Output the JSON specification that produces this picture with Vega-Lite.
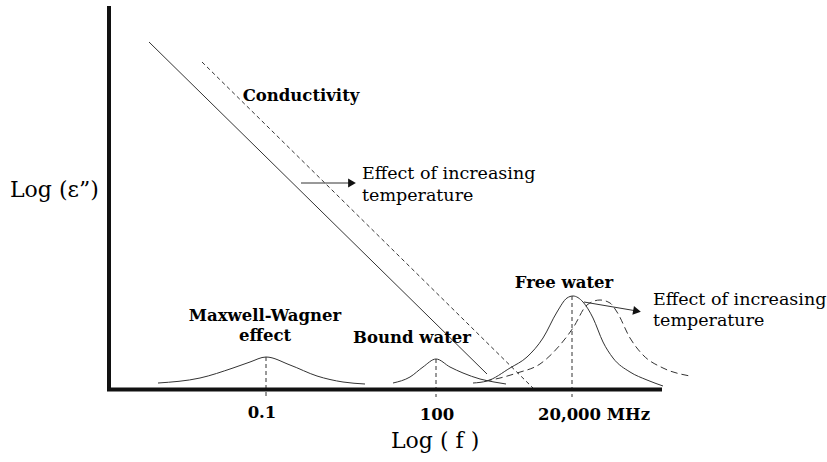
{
  "$schema": "https://vega.github.io/schema/vega-lite/v6.json",
  "width": 827,
  "height": 462,
  "autosize": "none",
  "padding": 0,
  "background": "white",
  "config": {"view": {"stroke": null}},
  "datasets": {
    "axes": [
      {"x": 109, "y": 6, "x2": 109, "y2": 391},
      {"x": 107, "y": 389.5, "x2": 662, "y2": 389.5}
    ],
    "solidSegs": [
      {"name": "conductivity", "x": 149, "y": 42, "x2": 487, "y2": 374},
      {"name": "arrow1", "x": 301, "y": 183, "x2": 349, "y2": 183},
      {"name": "arrow2", "x": 584, "y": 302, "x2": 634, "y2": 310.5}
    ],
    "dashSegs": [
      {"name": "conductivity hot", "x": 202, "y": 62, "x2": 533, "y2": 388},
      {"name": "MW peak", "x": 266, "y": 357, "x2": 266, "y2": 397},
      {"name": "BW peak", "x": 436, "y": 359, "x2": 436, "y2": 397},
      {"name": "FW peak", "x": 572, "y": 296, "x2": 572, "y2": 397}
    ],
    "curves": [
      {"c": "MW", "o": 1, "x": 158, "y": 383},
      {"c": "MW", "o": 2, "x": 200, "y": 378},
      {"c": "MW", "o": 3, "x": 233, "y": 368},
      {"c": "MW", "o": 4, "x": 250, "y": 362},
      {"c": "MW", "o": 5, "x": 266, "y": 357},
      {"c": "MW", "o": 6, "x": 290, "y": 365},
      {"c": "MW", "o": 7, "x": 317, "y": 376},
      {"c": "MW", "o": 8, "x": 343, "y": 382},
      {"c": "MW", "o": 9, "x": 365, "y": 384},
      {"c": "BW", "o": 1, "x": 393, "y": 383},
      {"c": "BW", "o": 2, "x": 410, "y": 377},
      {"c": "BW", "o": 3, "x": 423, "y": 367},
      {"c": "BW", "o": 4, "x": 436, "y": 359},
      {"c": "BW", "o": 5, "x": 450, "y": 367},
      {"c": "BW", "o": 6, "x": 463, "y": 373},
      {"c": "BW", "o": 7, "x": 480, "y": 379},
      {"c": "BW", "o": 8, "x": 494, "y": 382},
      {"c": "BW", "o": 9, "x": 506, "y": 384},
      {"c": "FW", "o": 1, "x": 473, "y": 383},
      {"c": "FW", "o": 2, "x": 487, "y": 381},
      {"c": "FW", "o": 3, "x": 510, "y": 368},
      {"c": "FW", "o": 4, "x": 527, "y": 357},
      {"c": "FW", "o": 5, "x": 543, "y": 338},
      {"c": "FW", "o": 6, "x": 557, "y": 312},
      {"c": "FW", "o": 7, "x": 567, "y": 298},
      {"c": "FW", "o": 8, "x": 573, "y": 296},
      {"c": "FW", "o": 9, "x": 583, "y": 302},
      {"c": "FW", "o": 10, "x": 593, "y": 318},
      {"c": "FW", "o": 11, "x": 603, "y": 342},
      {"c": "FW", "o": 12, "x": 613, "y": 358},
      {"c": "FW", "o": 13, "x": 630, "y": 372},
      {"c": "FW", "o": 14, "x": 647, "y": 380},
      {"c": "FW", "o": 15, "x": 663, "y": 386}
    ],
    "dashCurves": [
      {"c": "FW hot", "o": 1, "x": 485, "y": 381},
      {"c": "FW hot", "o": 2, "x": 500, "y": 378},
      {"c": "FW hot", "o": 3, "x": 517, "y": 373},
      {"c": "FW hot", "o": 4, "x": 540, "y": 364},
      {"c": "FW hot", "o": 5, "x": 560, "y": 345},
      {"c": "FW hot", "o": 6, "x": 573, "y": 328},
      {"c": "FW hot", "o": 7, "x": 587, "y": 305},
      {"c": "FW hot", "o": 8, "x": 600, "y": 300},
      {"c": "FW hot", "o": 9, "x": 610, "y": 303},
      {"c": "FW hot", "o": 10, "x": 617, "y": 312},
      {"c": "FW hot", "o": 11, "x": 630, "y": 338},
      {"c": "FW hot", "o": 12, "x": 643, "y": 355},
      {"c": "FW hot", "o": 13, "x": 663, "y": 368},
      {"c": "FW hot", "o": 14, "x": 690, "y": 376}
    ],
    "head1": [{"x": 352, "y": 183}],
    "head2": [{"x": 637, "y": 311}],
    "boldText": [
      {"x": 301, "y": 101, "t": "Conductivity"},
      {"x": 265, "y": 321, "t": "Maxwell-Wagner"},
      {"x": 265, "y": 341, "t": "effect"},
      {"x": 412, "y": 343, "t": "Bound water"},
      {"x": 564, "y": 288, "t": "Free water"},
      {"x": 262, "y": 418, "t": "0.1"},
      {"x": 437, "y": 420, "t": "100"},
      {"x": 594, "y": 420, "t": "20,000 MHz"}
    ],
    "plainText": [
      {"x": 362, "y": 179, "t": "Effect of increasing"},
      {"x": 362, "y": 201, "t": "temperature"},
      {"x": 653, "y": 305, "t": "Effect of increasing"},
      {"x": 653, "y": 326, "t": "temperature"}
    ],
    "titles": [
      {"x": 10, "y": 197, "t": "Log (ε”)"},
      {"x": 391, "y": 448, "t": "Log ( f )"}
    ]
  },
  "encoding": {
    "x": {"field": "x", "type": "quantitative", "scale": {"domain": [0, 827], "nice": false, "zero": false}, "axis": null},
    "y": {"field": "y", "type": "quantitative", "scale": {"domain": [0, 462], "nice": false, "zero": false, "reverse": true}, "axis": null}
  },
  "layer": [
    {
      "data": {"name": "solidSegs"},
      "mark": {"type": "rule", "stroke": "#333", "strokeWidth": 1},
      "encoding": {"x2": {"field": "x2"}, "y2": {"field": "y2"}}
    },
    {
      "data": {"name": "dashSegs"},
      "mark": {"type": "rule", "stroke": "#333", "strokeWidth": 1, "strokeDash": [4, 3]},
      "encoding": {"x2": {"field": "x2"}, "y2": {"field": "y2"}}
    },
    {
      "data": {"name": "curves"},
      "mark": {"type": "line", "stroke": "#333", "strokeWidth": 1, "interpolate": "monotone"},
      "encoding": {"detail": {"field": "c"}, "order": {"field": "o", "type": "quantitative"}}
    },
    {
      "data": {"name": "dashCurves"},
      "mark": {"type": "line", "stroke": "#333", "strokeWidth": 1, "strokeDash": [7, 4], "interpolate": "monotone"},
      "encoding": {"detail": {"field": "c"}, "order": {"field": "o", "type": "quantitative"}}
    },
    {
      "data": {"name": "axes"},
      "mark": {"type": "rule", "stroke": "#111", "strokeWidth": 4},
      "encoding": {"x2": {"field": "x2"}, "y2": {"field": "y2"}}
    },
    {
      "data": {"name": "head1"},
      "mark": {"type": "point", "shape": "triangle-right", "filled": true, "color": "#111", "size": 80, "opacity": 1},
      "encoding": {}
    },
    {
      "data": {"name": "head2"},
      "mark": {"type": "point", "shape": "triangle-right", "filled": true, "color": "#111", "size": 80, "angle": 10, "opacity": 1},
      "encoding": {}
    },
    {
      "data": {"name": "boldText"},
      "mark": {"type": "text", "font": "DejaVu Serif", "fontWeight": "bold", "fontSize": 16.5, "align": "center", "baseline": "alphabetic", "color": "#000"},
      "encoding": {"text": {"field": "t"}}
    },
    {
      "data": {"name": "plainText"},
      "mark": {"type": "text", "font": "DejaVu Serif", "fontSize": 17.5, "align": "left", "baseline": "alphabetic", "color": "#000"},
      "encoding": {"text": {"field": "t"}}
    },
    {
      "data": {"name": "titles"},
      "mark": {"type": "text", "font": "DejaVu Serif", "fontSize": 22, "align": "left", "baseline": "alphabetic", "color": "#000"},
      "encoding": {"text": {"field": "t"}}
    }
  ]
}
